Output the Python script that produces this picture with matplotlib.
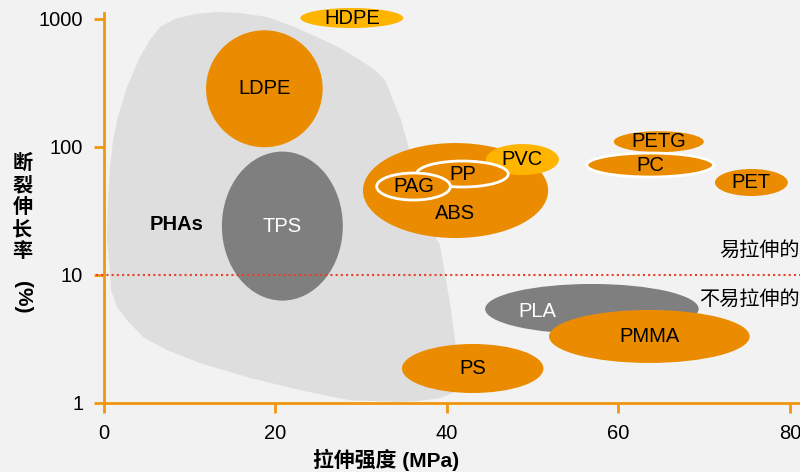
import numpy as np
import matplotlib.pyplot as plt
from matplotlib.patches import Ellipse, Polygon

plt.rcParams['font.family'] = ['Liberation Sans', 'Noto Sans CJK SC']
plt.rcParams['font.size'] = 14.5

ORANGE = '#eb8c00'
YELLOW = '#ffb400'
GREY = '#7f7f7f'
AXIS = '#f0960f'

# material bubbles: tensile strength (MPa) vs elongation at break (%)
materials = ['LDPE', 'TPS', 'HDPE', 'ABS', 'PVC', 'PP', 'PAG', 'PETG', 'PC', 'PET', 'PLA', 'PMMA', 'PS']
strength = [18.7, 20.8, 28.9, 41.0, 48.8, 41.8, 36.1, 64.7, 63.7, 75.5, 56.9, 63.6, 43.0]
elongation = [285, 24.1, 1018, 45.7, 79.8, 61.5, 49.1, 110, 72.3, 52.8, 5.43, 3.31, 1.86]
width_mpa = [13.6, 14.1, 12.0, 21.6, 8.5, 10.7, 8.6, 10.5, 14.8, 8.5, 24.9, 23.4, 16.5]
height_dec = [0.914, 1.164, 0.156, 0.742, 0.242, 0.203, 0.211, 0.164, 0.1875, 0.211, 0.39, 0.414, 0.383]
fills = [ORANGE, GREY, YELLOW, ORANGE, YELLOW, ORANGE, ORANGE, ORANGE, ORANGE, ORANGE, GREY, ORANGE, ORANGE]
outlined = ['PP', 'PAG', 'PC']
white_text = ['TPS', 'PLA']
label_pos = {'ABS': (40.9, 30.5), 'PLA': (50.5, 5.23)}

# PHAs region outline (MPa, %)
pha_x = [0.35, 0.47, 0.70, 1.05, 1.63, 2.68, 4.20, 5.36, 6.53, 8.28, 10.61, 13.18, 15.86, 19.01,
         21.92, 24.84, 27.52, 29.85, 31.60, 32.77, 33.70, 34.64, 35.45, 36.38, 37.32, 38.25, 39.18,
         39.88, 40.47, 40.93, 41.28, 41.28, 40.70, 39.18, 36.85, 34.52, 28.69, 22.86, 17.03, 11.20,
         7.35, 4.55, 2.68, 1.52, 0.82, 0.70]
pha_y = [18.8, 38.5, 69.8, 113, 172, 294, 505, 686, 866, 1000, 1094, 1134, 1114, 1037,
         881, 723, 593, 478, 400, 334, 233, 163, 104, 60.4, 35.2, 22.5, 17.2,
         9.14, 5.33, 3.11, 1.98, 1.43, 1.20, 1.09, 1.04, 1.02, 1.05, 1.26, 1.57, 2.05,
         2.59, 3.28, 4.45, 5.62, 7.64, 10.4]

y_ticks = [1, 10, 100, 1000]
x_ticks = [0, 20, 40, 60, 80]
threshold = 10

fig = plt.figure(figsize=(8, 4.72), dpi=100)
fig.patch.set_facecolor('#f2f2f2')
ax = fig.add_axes([0.13, 0.1462, 0.87, 0.8263])
ax.set_facecolor('#f2f2f2')

ax.add_patch(Polygon(np.column_stack([pha_x, np.log10(pha_y)]), closed=True,
                     facecolor='#dedede', edgecolor='none', zorder=1, clip_on=False))
ax.text(8.5, np.log10(25), 'PHAs', fontweight='bold', ha='center', va='center', zorder=5)

for i, name in enumerate(materials):
    cy = np.log10(elongation[i])
    ec = 'white' if name in outlined else 'none'
    ax.add_patch(Ellipse((strength[i], cy), width_mpa[i], height_dec[i], clip_on=False,
                         facecolor=fills[i], edgecolor=ec, lw=2, zorder=2 + i * 0.01))
    tx, ty = label_pos.get(name, (strength[i], elongation[i]))
    ax.text(tx, np.log10(ty), name, ha='center', va='center',
            color='white' if name in white_text else 'black', zorder=5)

ax.plot([-0.9, 81.2], [np.log10(threshold)] * 2, color='#e8402a', ls=(0, (1, 1.5)),
        lw=1.5, clip_on=False, zorder=4)
ax.text(81.1, np.log10(15.5), '易拉伸的', ha='right', va='center', fontsize=14.5, zorder=5)
ax.text(81.1, np.log10(6.4), '不易拉伸的', ha='right', va='center', fontsize=14.5, zorder=5)

ax.set_xlim(0, 81.17)
ax.set_ylim(0, 3.047)
ax.set_xticks(x_ticks)
ax.set_yticks(np.log10(y_ticks))
ax.set_yticklabels([str(v) for v in y_ticks])
for s in ['top', 'right']:
    ax.spines[s].set_visible(False)
for s in ['left', 'bottom']:
    ax.spines[s].set_color(AXIS)
    ax.spines[s].set_linewidth(2)
    ax.spines[s].set_zorder(6)
ax.tick_params(colors=AXIS, width=2, length=7, labelcolor='black', labelsize=14.5, pad=8)

fig.text(0.483, 0.025, '拉伸强度 (MPa)', ha='center', va='center', fontweight='bold', fontsize=15)
fig.text(0.028, 0.56, '断\n裂\n伸\n长\n率', ha='center', va='center', fontweight='bold',
         fontsize=14.5, linespacing=1.2)
fig.text(0.028, 0.37, '(%)', ha='center', va='center', fontweight='bold', fontsize=15, rotation=-90)

fig.savefig('out.png', dpi=100, facecolor=fig.get_facecolor())
